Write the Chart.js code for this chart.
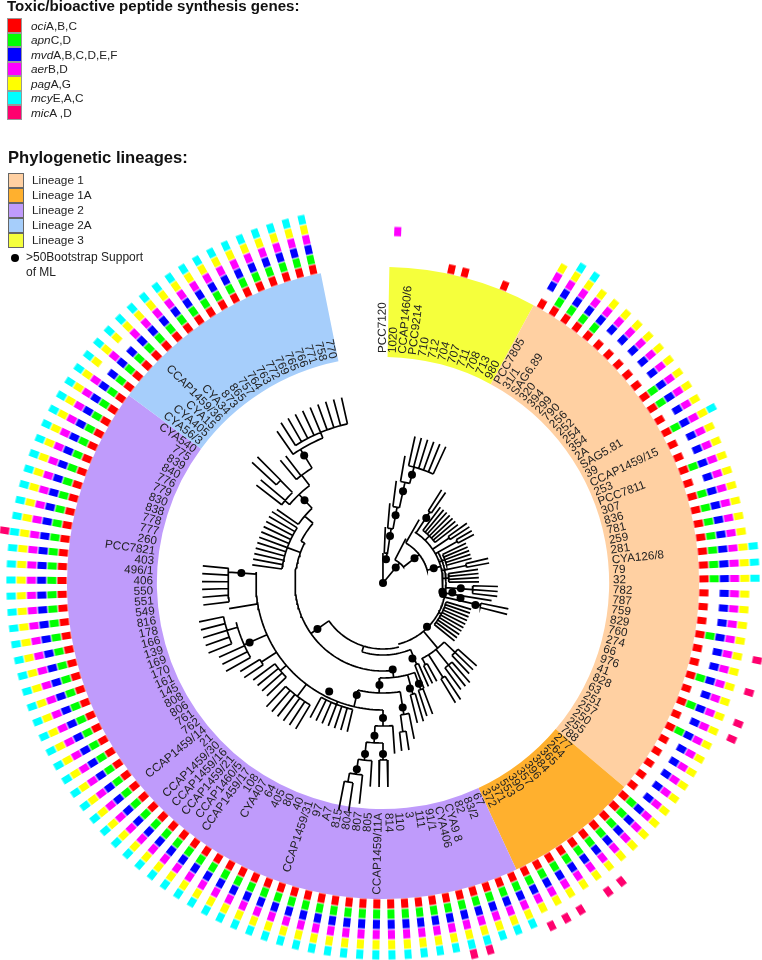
<!DOCTYPE html>
<html>
<head>
  <title>Phylogeny with toxic/bioactive peptide genes</title>
  <script src="https://cdn.jsdelivr.net/npm/chart.js"></script>
  <style>
    body { margin: 0; background: #fff; font-family: "Liberation Sans", Arial, sans-serif; color: #222; }
    #page { position: relative; width: 762px; height: 960px; overflow: hidden; }
    canvas { position: absolute; }
    .title { position: absolute; font-weight: bold; color: #111; white-space: nowrap; line-height: 16px; }
    .swatch { position: absolute; box-sizing: border-box; border: 1px solid #999; }
    .item { position: absolute; font-size: 11.8px; line-height: 14px; white-space: nowrap; }
    .dot { position: absolute; width: 8px; height: 8px; border-radius: 50%; background: #000; }
  </style>
</head>
<body>
<div id="page">
  <canvas id="ring" width="640" height="640" style="left:63px;top:263px"></canvas>
  <canvas id="tree" width="762" height="960" style="left:0;top:0"></canvas>
  <div id="legend"></div>
</div>

<script>
  // Taxa clockwise from the top, one per tree tip
  const taxonLabels = [
    'PCC7120', '1020', 'CCAP1460/6', 'PCC9214', '710', '712', '704', '707', '711', '708',
    '713', '980', 'PCC7805', '31/1', 'SAG6.89', '320', '394', '299', '790', '256',
    '252', '254', '354', '2A', 'SAG5.81', '39', 'CCAP1459/15', '253', 'PCC7811', '307',
    '836', '781', '259', '281', 'CYA126/8', '79', '32', '782', '787', '759',
    '829', '760', '274', '66', '976', '41', '828', '63', '251', '257',
    '250', '255', '788', '277', '264', '365', '384', '396', '357', '390',
    '553', '371', '372', '67', '83/2', '82', 'CYA9 8', 'CYA406', '91/1', '111',
    '3', '110', '814', 'CCAP1459/11A', '805', '807', '804', '815', 'A7', '97',
    'CCAP1459/31', '40', '80', '405', '64', 'CYA407', '108', 'CCAP1459/17', 'CCAP1460/5', 'CCAP1459/21',
    'CCAP1459/16', 'CCAP1459/30', '21', 'CCAP1459/14', '762', '761', '806', '808', '145', '161',
    '170', '169', '139', '166', '178', '816', '549', '551', '550', '406',
    '496/1', '403', 'PCC7821', '260', '777', '778', '838', '830', '779', '776',
    '840', '839', '775', 'CYA540', 'CYA56/3', 'CYA405', 'CYA15', 'CCAP1459/36', 'CYA34', '873',
    '865', '757', '764', '763', '772', '769', '765', '766', '771', '758',
    '770'
  ];

  // Genes found per taxon: r oci, g apn, b mvd, m aer, y pag, c mcy, k mic
  const geneCodes = [
    '', 'm', '', '', '', 'r', 'r', '', '', 'r',
    '', '', 'rbmy', 'rgbmyc', 'rgbmyc', 'rgbmy', 'rgbmy', 'rbmy', 'rbmy', 'rbmy',
    'rbmy', 'rbmy', 'rgbmy', 'rgbmy', 'rbmy', 'rgbmyc', 'rbmy', 'rbmy', 'rgbmy', 'rbmy',
    'rgbmy', 'rgbmy', 'rgbmy', 'rgbmy', 'rgbmyc', 'rgbmyc', 'rgbmyc', 'rbmy', 'rbmy', 'rbmy',
    'rgbmy', 'rbmyk', 'rbmy', 'rgbmyk', 'rbmy', 'rgbmyk', 'rbmyk', 'rgbmy', 'rbmy', 'rbmy',
    'rbmy', 'rbmy', 'rbmy', 'rgbmy', 'rgbmy', 'rgbmy', 'rgbmy', 'rgbmyk', 'rgbmyk', 'rgbmy',
    'rgbmyk', 'rgbmyk', 'rgbmyk', 'rgbmyc', 'rgbmyc', 'rgbmyc', 'rgbmyck', 'rgbmyck', 'rgbmyc', 'rgbmyc',
    'rgbmyc', 'rgbmyc', 'rgbmyc', 'rgbmyc', 'rgbmyc', 'rgbmyc', 'rgbmyc', 'rgbmyc', 'rgbmyc', 'rgbmyc',
    'rgbmyc', 'rgbmyc', 'rgbmyc', 'rgbmyc', 'rgbmyc', 'rgbmyc', 'rgbmyc', 'rgbmyc', 'rgbmyc', 'rgbmyc',
    'rgbmyc', 'rgbmyc', 'rgbmyc', 'rgbmyc', 'rgbmyc', 'rgbmyc', 'rgbmyc', 'rgbmyc', 'rgbmyc', 'rgbmyc',
    'rgbmyc', 'rgbmyc', 'rgbmyc', 'rgbmyc', 'rgbmyc', 'rgbmyc', 'rgbmyc', 'rgbmyc', 'rgbmyc', 'rgbmyc',
    'rgbmyc', 'rgbmyc', 'rgbmyck', 'rgbmyc', 'rgbmyc', 'rgbmyc', 'rgbmyc', 'rgbmyc', 'rgbmyc', 'rgbmyc',
    'rgbmyc', 'rgbmyc', 'rgbmyc', 'rgbmyc', 'rgbyc', 'rgbmyc', 'rgbyc', 'rgbmyc', 'rgbmyc', 'rgbmyc',
    'rgbmyc', 'rgbmyc', 'rgbmyc', 'rgbmyc', 'rgbmyc', 'rgbmyc', 'rgbmyc', 'rgbmyc', 'rgbmyc', 'rgbmyc',
    'rgbmyc'
  ];

  const geneCodeOrder = ['r', 'g', 'b', 'm', 'y', 'c', 'k'];
  const geneNames = ['oci', 'apn', 'mvd', 'aer', 'pag', 'mcy', 'mic'];
  const geneSuffixes = ['A,B,C', 'C,D', 'A,B,C,D,E,F', 'B,D', 'A,G', 'E,A,C', 'A ,D'];
  const geneColors = ['#ff0000', '#00ff00', '#0000ff', '#ff00ff', '#ffff00', '#00ffff', '#ff006e'];
  const geneRadii = [321, 331.2, 341.4, 351.6, 361.8, 372, 382];

  const lineageNames = ['Lineage 1', 'Lineage 1A', 'Lineage 2', 'Lineage 2A', 'Lineage 3'];
  const lineageColors = ['#ffd0a2', '#ffb02e', '#bf9bfb', '#a6cefb', '#f5ff3c'];
  // Number of rows per lineage, clockwise from the top: 3, 1, 1A, 2, 2A
  const ringCounts = [11, 41, 10, 61, 17];
  const ringColors = ['#f5ff3c', '#ffd0a2', '#ffb02e', '#bf9bfb', '#a6cefb'];

  // Tree: angles in degrees clockwise from the top, radii in px
  // [angle, fromRadius, toRadius]
  const treeStems = [
    [-0.08, 0, 30], [7.2, 24, 30], [2.4, 30, 56], [8.5, 30, 55], [4.9, 55, 80], [10.5, 55, 77],
    [7.4, 77, 103], [12.3, 77, 103], [9.8, 103, 129], [15, 103, 120],
    [39.6, 0, 26], [27.2, 26, 50], [52, 26, 46], [29.7, 46, 73], [73.9, 46, 60], [140, 63, 85],
    [235, 66, 88], [197, 66, 72], [173.6, 88, 95], [182, 95, 110], [171, 110, 133], [168.7, 133, 159],
    [193.2, 110, 127], [180, 127, 143], [176.1, 143, 171], [183.2, 143, 160], [180, 160, 177],
    [186, 160, 178], [183.6, 178, 204], [188, 178, 193], [186.1, 193, 222], [190, 193, 202],
    [246, 127, 152], [274, 127, 155], [297, 88, 92], [310.5, 92, 103], [304.7, 103, 129],
    [316.5, 103, 122], [310, 122, 128], [315, 128, 145], [323, 122, 135], [328.3, 135, 157]
  ];
  // [fromAngle, toAngle, radius]
  const treeArcs = [
    [-0.08, 7.2, 24], [2.4, 8.5, 30], [4.9, 10.5, 55], [7.4, 12.3, 77], [9.8, 15, 103],
    [27.2, 52, 26], [29.7, 73.9, 46], [32, 100, 60], [60, 166, 63], [134, 152.6, 85],
    [166, 235, 66], [157.5, 197, 72], [173.6, 297, 88], [160.4, 182, 95], [171, 193.2, 110],
    [168.7, 172.4, 133], [180, 275, 127], [176.1, 183.2, 143], [180, 186, 160], [183.6, 188, 178],
    [186.1, 190, 193], [243, 255, 152], [297, 310.5, 92], [304.7, 316.5, 103], [310, 323, 122],
    [307.6, 315, 128], [320.2, 328.3, 135], [325, 337.5, 157]
  ];
  // [firstRow, lastRow, fromRadius, arcRadius, tipRadius]
  const treeFans = [
    [4, 9, 120, 120, 150], [12, 13, 60, 85, 110], [14, 20, 60, 66, 95], [21, 22, 60, 80, 103],
    [23, 24, 60, 85, 103], [25, 29, 60, 66, 92], [30, 31, 60, 85, 108], [32, 35, 60, 66, 96],
    [36, 38, 63, 90, 115], [39, 39, 63, 85, 110], [40, 41, 63, 100, 128], [42, 51, 63, 66, 92],
    [52, 54, 85, 100, 125], [55, 57, 85, 105, 132], [58, 59, 85, 112, 140], [60, 61, 85, 92, 112],
    [62, 63, 72, 88, 113], [63.2, 64.2, 95, 113, 140], [65, 66, 95, 115, 144], [68, 69, 133, 150, 169],
    [71, 72, 177, 177, 204], [75, 76, 202, 202, 231], [77, 83, 127, 130, 153], [84, 89, 127, 142, 170],
    [90, 93, 127, 135, 162], [94, 95, 127, 145, 168], [96, 98, 152, 152, 180], [99, 103, 152, 163, 188],
    [104, 104, 127, 127, 156], [105, 110, 155, 155, 181], [111, 121, 88, 102, 132], [123, 124, 128, 128, 160],
    [125, 126, 145, 145, 178], [128, 129, 135, 135, 160], [130, 130, 157, 157, 185], [131, 139, 157, 163, 190]
  ];
  // [angle, radius] of the >50 bootstrap dots
  const bootstrapNodes = [
    [0, 0], [7.2, 24], [8.5, 47.5], [10.5, 69], [12.3, 94], [15, 112], [39.6, 20], [52, 40], [73.9, 52.8],
    [33.7, 78], [98.5, 60], [100.5, 61], [97.9, 70], [93.9, 78], [101, 79], [103.4, 95], [134.8, 62],
    [158.7, 81], [173.6, 87], [160.4, 107], [165.7, 109], [182, 102], [171, 126], [193.2, 115], [180, 135],
    [183.2, 153], [186, 172], [180, 171], [188, 188], [206.4, 121], [235, 80], [246, 146], [274, 142],
    [316.5, 114], [328.3, 150]
  ];

  const rowStart = 2.4;    // angle of row 0 (PCC7120 sits one row before it)
  const rowStep = 2.482;
  const ringInner = 229;
  const ringOuter = 316;

  function rowAngle(row) {
    return rowStart + rowStep * row;
  }

  // Polar position around the tree root, in the scatter chart's data units
  function polar(angle, radius) {
    const rad = angle * Math.PI / 180;
    return { x: radius * Math.sin(rad), y: radius * Math.cos(rad) };
  }

  // Colored cell used as the point style of one gene ring
  function cellImage(color) {
    const c = document.createElement('canvas');
    c.width = 7;
    c.height = 10;
    const g = c.getContext('2d');
    g.fillStyle = color;
    g.fillRect(0, 0.4, 7, 9.2);
    return c;
  }

  // One dataset per gene ring
  const geneDatasets = geneCodeOrder.map((code, g) => {
    const points = [];
    const rotations = [];
    geneCodes.forEach((codes, i) => {
      if (codes.includes(code)) {
        const angle = rowAngle(i - 1);
        points.push(polar(angle, geneRadii[g]));
        rotations.push(angle);
      }
    });
    return {
      label: geneNames[g],
      data: points,
      showLine: false,
      pointStyle: cellImage(geneColors[g]),
      pointRadius: 5,
      pointRotation: rotations
    };
  });

  // All branches go in one line dataset, nulls break the line
  const treePoints = [];
  function addStem(angle, r0, r1) {
    if (r0 === r1) return;
    treePoints.push(polar(angle, r0), polar(angle, r1), { x: null, y: null });
  }
  function addArc(a0, a1, radius) {
    for (let a = a0; a < a1; a += 1.5) treePoints.push(polar(a, radius));
    treePoints.push(polar(a1, radius), { x: null, y: null });
  }
  treeStems.forEach(s => addStem(s[0], s[1], s[2]));
  treeArcs.forEach(a => addArc(a[0], a[1], a[2]));
  treeFans.forEach(f => {
    const first = rowAngle(f[0]);
    const last = rowAngle(f[1]);
    addStem((first + last) / 2, f[2], f[3]);
    if (f[1] > f[0]) addArc(first, last, f[3]);
    for (let row = f[0]; row <= f[1]; row++) addStem(rowAngle(row), f[3], f[4]);
  });

  // Doughnut for the lineage ring, behind the scatter chart
  new Chart(document.getElementById('ring'), {
    type: 'doughnut',
    data: {
      labels: ['Lineage 3', 'Lineage 1', 'Lineage 1A', 'Lineage 2', 'Lineage 2A'],
      datasets: [{ data: ringCounts, backgroundColor: ringColors, borderWidth: 0 }]
    },
    options: {
      responsive: false,
      animation: false,
      rotation: rowStart - rowStep / 2,
      circumference: rowStep * 140,
      radius: ringOuter,
      cutout: ringInner,
      plugins: { legend: { display: false }, tooltip: { enabled: false } }
    }
  });

  // Taxon names run radially from the inner edge of the ring
  const taxonLabelPlugin = {
    id: 'taxonLabels',
    afterDatasetsDraw(chart) {
      const ctx = chart.ctx;
      ctx.save();
      ctx.font = '11.7px "Liberation Sans", Arial, sans-serif';
      ctx.fillStyle = '#222';
      ctx.textBaseline = 'middle';
      taxonLabels.forEach((label, i) => {
        const angle = rowAngle(i - 1);
        const p = polar(angle, ringInner + 1);
        const flip = angle >= 180;
        ctx.save();
        ctx.translate(chart.scales.x.getPixelForValue(p.x), chart.scales.y.getPixelForValue(p.y));
        ctx.rotate((flip ? angle + 90 : angle - 90) * Math.PI / 180);
        ctx.textAlign = flip ? 'right' : 'left';
        ctx.fillText(label, 0, 0);
        ctx.restore();
      });
      ctx.restore();
    }
  };

  new Chart(document.getElementById('tree'), {
    type: 'scatter',
    data: {
      datasets: [
        ...geneDatasets,
        {
          label: 'tree',
          data: treePoints,
          showLine: true,
          spanGaps: false,
          borderColor: '#000',
          borderWidth: 1.7,
          pointRadius: 0
        },
        {
          label: 'bootstrap',
          data: bootstrapNodes.map(n => polar(n[0], n[1])),
          showLine: false,
          pointRadius: 4,
          pointBackgroundColor: '#000',
          pointBorderWidth: 0
        }
      ]
    },
    options: {
      responsive: false,
      animation: false,
      // autoPadding would shrink the plot area and pull the rings off the doughnut
      layout: { padding: 0, autoPadding: false },
      scales: {
        x: { type: 'linear', display: false, min: -383, max: 379 },
        y: { type: 'linear', display: false, min: -377, max: 583 }
      },
      plugins: { legend: { display: false }, tooltip: { enabled: false } }
    },
    plugins: [taxonLabelPlugin]
  });

  // Legends are plain HTML
  const legend = document.getElementById('legend');
  function addEl(cls, left, top, html, extra) {
    const el = document.createElement('div');
    el.className = cls;
    el.style.left = left + 'px';
    el.style.top = top + 'px';
    if (html) el.innerHTML = html;
    if (extra) Object.assign(el.style, extra);
    legend.appendChild(el);
  }
  addEl('title', 7, -2, 'Toxic/bioactive peptide synthesis genes:', { fontSize: '15.1px' });
  geneNames.forEach((name, i) => {
    addEl('swatch', 7, 18 + i * 14.5, '', { width: '15px', height: '14.5px', background: geneColors[i] });
    addEl('item', 31, 18.5 + i * 14.5, '<i>' + name + '</i>' + geneSuffixes[i]);
  });
  addEl('title', 8, 150, 'Phylogenetic lineages:', { fontSize: '16.6px' });
  lineageNames.forEach((name, i) => {
    addEl('swatch', 8, 172.5 + i * 15, '', { width: '15.5px', height: '15px', background: lineageColors[i], borderColor: '#666' });
    addEl('item', 32, 173 + i * 15, name);
  });
  addEl('dot', 11, 254);
  addEl('item', 26, 250, '&gt;50Bootstrap Support', { fontSize: '12px' });
  addEl('item', 26, 265, 'of ML', { fontSize: '12px' });
</script>
</body>
</html>
